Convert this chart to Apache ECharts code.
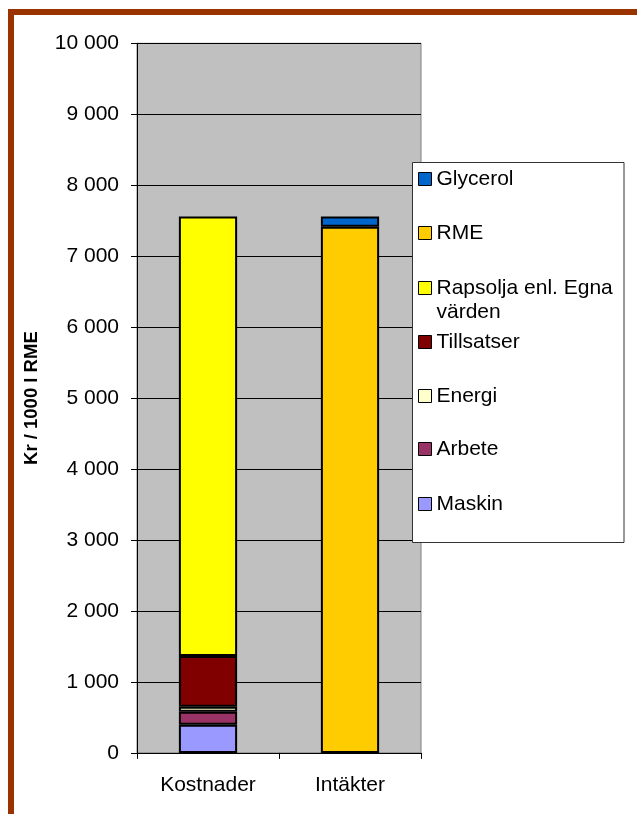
<!DOCTYPE html>
<html>
<head>
<meta charset="utf-8">
<script src="https://cdn.jsdelivr.net/npm/echarts@6/dist/echarts.min.js"></script>
<style>
  html, body { margin: 0; padding: 0; background: #fff; }
  #chart { width: 637px; height: 814px; }
</style>
</head>
<body>
<div id="chart"></div>
<script>
// Kostnader vs. intäkter per 1000 l RME (kr)
const categories = ['Kostnader', 'Intäkter'];

const maskin     = [395, null];
const arbete     = [185, null];
const energi     = [70, null];
const tillsatser = [715, null];
const rapsolja   = [6195, null];
const rme        = [null, 7415];
const glycerol   = [null, 145];

const seriesNames = ['Maskin', 'Arbete', 'Energi', 'Tillsatser',
                     'Rapsolja enl. Egna värden', 'RME', 'Glycerol'];
const seriesData  = [maskin, arbete, energi, tillsatser, rapsolja, rme, glycerol];
const seriesColors = ['#9999FF', '#993366', '#FFFFCC', '#800000',
                      '#FFFF00', '#FFCC00', '#0066CC'];

// legend order top to bottom, with icon centre y for each entry
const legendOrder = ['Glycerol', 'RME', 'Rapsolja enl. Egna värden',
                     'Tillsatser', 'Energi', 'Arbete', 'Maskin'];
const legendCentres = [179, 233, 288, 342, 396, 449, 504];

const FONT = "'Liberation Sans', Arial, sans-serif";

const chart = echarts.init(document.getElementById('chart'), null, { renderer: 'canvas' });

const series = seriesNames.map((name, i) => ({
  name,
  type: 'bar',
  stack: 'total',
  barWidth: '41%',
  data: seriesData[i],
  itemStyle: { color: seriesColors[i], borderColor: '#000', borderWidth: 2 },
  emphasis: { disabled: true }
}));

const legends = legendOrder.map((name, i) => {
  const twoLine = name === 'Rapsolja enl. Egna värden';
  const lh = twoLine ? 24 : 21;
  return {
    data: [name],
    orient: 'vertical',
    left: 418,
    top: twoLine ? legendCentres[i] - lh * 1.5 : legendCentres[i] - lh / 2,
    padding: 0,
    itemWidth: 13,
    itemHeight: 13,
    itemGap: 0,
    icon: 'rect',
    selectedMode: false,
    itemStyle: { borderColor: '#000', borderWidth: 1 },
    formatter: twoLine ? () => '\nRapsolja enl. Egna\nvärden' : '{name}',
    textStyle: { fontFamily: FONT, fontSize: 21, color: '#000', lineHeight: lh, padding: [0, 0, 0, 0] },
    z: 10
  };
});

chart.setOption({
  animation: false,
  backgroundColor: '#fff',
  textStyle: { fontFamily: FONT },
  grid: {
    left: 137, right: 216, top: 43.3, bottom: 61.1,
    show: true, backgroundColor: '#C0C0C0', borderColor: '#808080', borderWidth: 1
  },
  xAxis: {
    type: 'category',
    data: categories,
    axisLine: { lineStyle: { color: '#000', width: 1 } },
    axisTick: { show: true, length: 6, lineStyle: { color: '#000' } },
    axisLabel: { fontFamily: FONT, fontSize: 21, color: '#000', margin: 22 }
  },
  yAxis: {
    type: 'value',
    min: 0, max: 10000, interval: 1000,
    name: 'Kr / 1000 l RME',
    nameLocation: 'middle',
    nameRotate: 90,
    nameGap: 96,
    nameTextStyle: { fontFamily: FONT, fontSize: 18.5, fontWeight: 'bold', color: '#000' },
    axisLine: { show: true, lineStyle: { color: '#000', width: 1 } },
    axisTick: { show: true, length: 6, lineStyle: { color: '#000' } },
    splitLine: { show: true, lineStyle: { color: '#000', width: 1 } },
    axisLabel: {
      fontFamily: FONT, fontSize: 21, color: '#000', margin: 18,
      formatter: v => String(v).replace(/\B(?=(\d{3})+(?!\d))/g, ' ')
    }
  },
  legend: legends,
  graphic: [
    { type: 'rect', z: 5, shape: { x: 412.5, y: 162.5, width: 211.5, height: 380 },
      style: { fill: '#fff', stroke: '#333', lineWidth: 1 } },
    { type: 'rect', z: 20, shape: { x: 8, y: 9, width: 629, height: 6 },
      style: { fill: '#993300' } },
    { type: 'rect', z: 20, shape: { x: 8, y: 9, width: 6, height: 805 },
      style: { fill: '#993300' } }
  ],
  series
});
</script>
</body>
</html>
